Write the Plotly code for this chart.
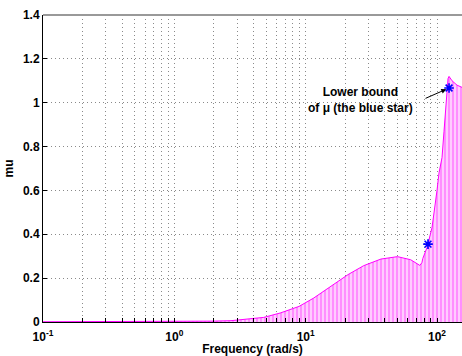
import numpy as np
import plotly.graph_objects as go

# Upper bound of mu (magenta)
freq = [0.1, 0.2, 0.4, 0.7, 1.0, 1.5, 2.0, 2.7, 3.5, 4.8, 6.4, 8.9, 11.5, 15.5,
        21, 27.7, 37.4, 50, 63, 74, 76.7, 78, 84, 91.6, 96.5, 100, 103.6, 109.2,
        113.1, 117.1, 121.3, 123.5, 130.2, 142, 155]
mu_upper = [0.001, 0.001, 0.002, 0.002, 0.002, 0.003, 0.004, 0.006, 0.012, 0.021,
            0.041, 0.071, 0.109, 0.163, 0.216, 0.257, 0.287, 0.298, 0.284, 0.258,
            0.27, 0.29, 0.34, 0.43, 0.52, 0.60, 0.68, 0.75, 0.87, 1.01, 1.11,
            1.12, 1.10, 1.08, 1.07]

# Lower bound (blue stars)
freq_lb = [85.4, 123.5]
mu_lb = [0.355, 1.067]

# Axis ticks
decades = [-1, 0, 1, 2]
ytick_vals = [0, 0.2, 0.4, 0.6, 0.8, 1.0, 1.2, 1.4]
ytick_text = ["0", "0.2", "0.4", "0.6", "0.8", "1", "1.2", "1.4"]

xtick_vals = []
xtick_text = []
for d in decades:
    for m in range(1, 10):
        v = m * 10.0 ** d
        if v <= 160:
            xtick_vals.append(v)
            xtick_text.append(f"10<sup>{d}</sup>" if m == 1 else "")

FONT = "Liberation Sans, Arial, sans-serif"
GRID = "#8a8a8a"

fig = go.Figure()
fig.add_trace(go.Scatter(
    x=freq, y=mu_upper, mode="lines",
    line=dict(color="#ff00ff", width=1),
    fill="tozeroy",
    fillcolor="#ffc4ff",
    fillpattern=dict(shape="|", fgcolor="#ff30ff", bgcolor="#ffccff",
                     size=4, solidity=0.4),
    showlegend=False, hoverinfo="skip"))
fig.add_trace(go.Scatter(
    x=freq_lb, y=mu_lb, mode="markers",
    marker=dict(symbol="asterisk-open", size=8, color="blue",
                line=dict(color="blue", width=1.6)),
    showlegend=False))

fig.update_layout(
    width=462, height=356,
    margin=dict(l=43, r=0, t=15, b=34),
    paper_bgcolor="white", plot_bgcolor="white",
    font=dict(family=FONT, size=12, color="black", weight="bold"),
)
fig.update_xaxes(
    type="log", range=[-1, np.log10(155)],
    tickvals=xtick_vals, ticktext=xtick_text, tickangle=0,
    showgrid=True, gridcolor=GRID, griddash="1px,3px", gridwidth=1,
    showline=True, linecolor="black", linewidth=1,
    ticks="inside", ticklen=4, tickcolor="black",
    ticklabelstandoff=4,
    zeroline=False,
    tickfont=dict(family=FONT, size=12, weight="bold"),
    title=dict(text="Frequency (rad/s)", standoff=2,
               font=dict(family=FONT, size=12, weight="bold")),
)
fig.update_yaxes(
    range=[0, 1.4], tickvals=ytick_vals, ticktext=ytick_text,
    showgrid=True, gridcolor=GRID, griddash="1px,3px", gridwidth=1,
    showline=True, linecolor="black", linewidth=1,
    ticks="inside", ticklen=4, tickcolor="black",
    zeroline=False,
    tickfont=dict(family=FONT, size=12, weight="bold"),
    title=dict(text="mu", standoff=6,
               font=dict(family=FONT, size=12, weight="bold")),
)
# top frame line
fig.add_shape(type="line", xref="paper", yref="paper", x0=0, x1=1, y0=1, y1=1,
              line=dict(color="#999999", width=2))

# annotation text
fig.add_annotation(x=1.42, y=1.012, xref="x", yref="y",
                   text="Lower bound<br>of \u03bc (the blue star)",
                   showarrow=False, align="center",
                   font=dict(family=FONT, size=12, weight="bold", color="black"))
# arrow to the blue star
fig.add_annotation(x=np.log10(freq_lb[1]), y=mu_lb[1], xref="x", yref="y",
                   ax=-25, ay=11, text="", showarrow=True,
                   arrowhead=2, arrowsize=1, arrowwidth=1, arrowcolor="black",
                   standoff=3)

fig.write_html("out.html")
